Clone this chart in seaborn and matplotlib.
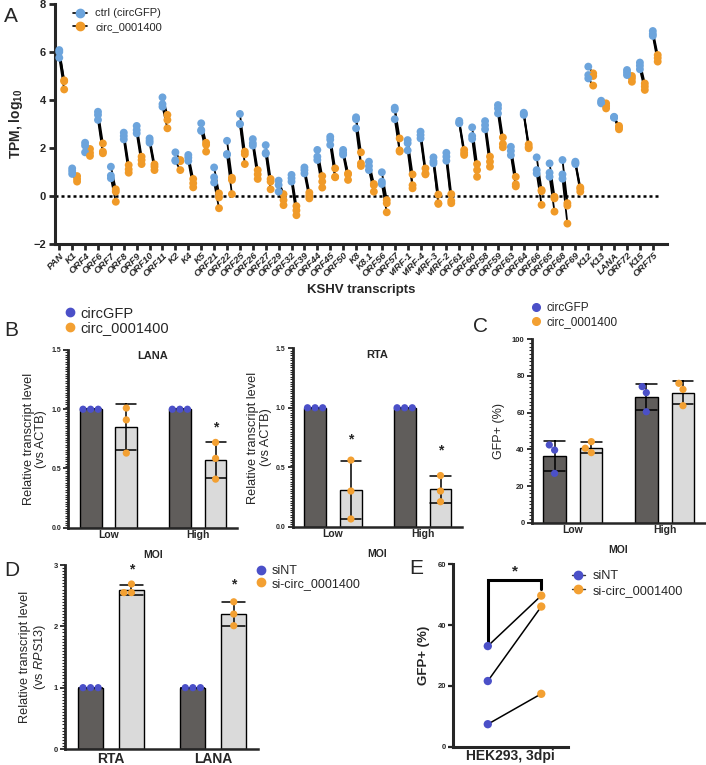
import numpy as np
import pandas as pd
import matplotlib
matplotlib.use("Agg")
import matplotlib.pyplot as plt
import seaborn as sns
from matplotlib.lines import Line2D
from matplotlib.collections import LineCollection
from matplotlib.ticker import MultipleLocator, FormatStrFormatter

# ---------------- data ----------------
transcripts = ["PAN", "K1", "ORF4", "ORF6", "ORF7", "ORF8", "ORF9", "ORF10", "ORF11", "K2",
               "K4", "K5", "ORF21", "ORF22", "ORF25", "ORF26", "ORF27", "ORF29", "ORF32", "ORF39",
               "ORF44", "ORF45", "ORF50", "K8", "K8.1", "ORF56", "ORF57", "vIRF-1", "vIRF-4", "vIRF-3",
               "vIRF-2", "ORF61", "ORF60", "ORF58", "ORF59", "ORF63", "ORF64", "ORF66", "ORF65", "ORF68",
               "ORF69", "K12", "K13", "LANA", "ORF72", "K15", "ORF75"]
ctrl_tpm = [[6.08, 6.0, 5.76], [1.15, 1.04, 0.92], [2.22, 2.1, 1.82], [3.51, 3.38, 3.17],
            [1.22, 0.85, 0.74], [2.64, 2.5, 2.36], [2.92, 2.75, 2.61], [2.4, 2.3, 2.22],
            [4.11, 3.83, 3.72], [1.82, 1.5, 1.46], [1.71, 1.6, 1.46], [3.03, 2.75, 2.71],
            [1.19, 0.78, 0.56], [2.3, 1.75, 1.72], [3.42, 3.0, 3.0], [2.37, 2.2, 2.1],
            [2.12, 1.8, 1.76], [0.64, 0.46, 0.18], [0.88, 0.74, 0.6], [1.19, 1.08, 0.94],
            [1.92, 1.64, 1.5], [2.47, 2.35, 2.13], [1.92, 1.8, 1.72], [3.28, 3.2, 2.82],
            [1.43, 1.25, 1.08], [0.99, 0.6, 0.5], [3.68, 3.6, 3.2], [2.33, 2.2, 1.9],
            [2.68, 2.54, 2.4], [1.61, 1.45, 1.36], [1.8, 1.64, 1.47], [3.13, 3.05, 3.03],
            [2.86, 2.5, 2.38], [3.12, 2.95, 2.78], [3.79, 3.65, 3.44], [2.05, 1.88, 1.7],
            [3.47, 3.42, 3.38], [1.61, 1.08, 0.94], [1.36, 0.97, 0.8], [1.5, 0.9, 0.72],
            [1.43, 1.38, 1.33], [5.39, 5.04, 4.9], [3.97, 3.9, 3.86], [3.3, 3.28, 3.26],
            [5.25, 5.15, 5.04], [5.56, 5.43, 5.28], [6.875, 6.75, 6.67]]
circ_tpm = [[4.82, 4.78, 4.44], [0.83, 0.71, 0.6], [1.96, 1.8, 1.67], [2.19, 1.85, 1.78],
            [0.28, 0.18, -0.24], [1.29, 1.11, 0.97], [1.64, 1.5, 1.33], [1.32, 1.22, 1.08],
            [3.38, 3.17, 2.82], [1.5, 1.45, 1.08], [0.71, 0.53, 0.36], [2.22, 2.13, 1.85],
            [0.11, -0.06, -0.51], [0.76, 0.67, 0.08], [1.85, 1.74, 1.33], [1.08, 0.9, 0.71],
            [0.71, 0.6, 0.28], [0.08, -0.17, -0.38], [-0.42, -0.6, -0.8], [0.14, 0.02, -0.1],
            [0.83, 0.6, 0.35], [1.15, 0.8, 0.78], [0.94, 0.9, 0.67], [1.82, 1.36, 1.25],
            [0.5, 0.45, 0.18], [-0.17, -0.3, -0.68], [2.4, 1.9, 1.85], [0.9, 0.45, 0.32],
            [1.15, 0.94, 0.9], [0.06, -0.3, -0.33], [0.08, -0.2, -0.3], [1.92, 1.8, 1.71],
            [1.33, 1.08, 0.8], [1.64, 1.43, 1.22], [2.44, 2.17, 2.03], [0.8, 0.49, 0.4],
            [2.15, 2.05, 1.99], [0.25, 0.2, -0.37], [-0.03, -0.1, -0.65], [-0.3, -0.4, -1.15],
            [0.36, 0.3, 0.18], [5.11, 5.0, 4.6], [3.86, 3.75, 3.65], [2.92, 2.85, 2.78],
            [5.0, 4.9, 4.76], [4.69, 4.56, 4.42], [5.875, 5.75, 5.6]]

moi_levels = ["Low", "High"]
b_lana_circgfp = [[1.0, 1.0, 1.0], [1.0, 1.0, 1.0]]
b_lana_circ = [[1.01, 0.91, 0.63], [0.72, 0.585, 0.41]]
b_rta_circgfp = [[1.0, 1.0, 1.0], [1.0, 1.0, 1.0]]
b_rta_circ = [[0.56, 0.30, 0.065], [0.43, 0.30, 0.21]]
c_circgfp = [[42.4, 39.6, 26.9], [74.2, 70.9, 60.5]]
c_circ = [[44.2, 40.6, 38.2], [76.0, 72.7, 63.8]]
d_genes = ["RTA", "LANA"]
d_sint = [[1.0, 1.0, 1.0], [1.0, 1.0, 1.0]]
d_sicirc = [[2.69, 2.55, 2.55], [2.40, 2.20, 2.01]]
e_conditions = ["siNT", "si-circ_0001400"]
e_sint = [33.1, 21.6, 7.4]
e_sicirc = [49.7, 46.1, 17.4]

# significance marks (y levels)
b_lana_star = [None, 0.85]
b_rta_star = [0.73, 0.64]
d_star = [2.93, 2.69]
e_star = 57.6

# ---------------- style ----------------
sns.set_theme(style="ticks")
plt.rcParams["font.family"] = ["Liberation Sans", "DejaVu Sans"]
plt.rcParams["mathtext.fontset"] = "custom"
plt.rcParams["mathtext.rm"] = "Liberation Sans"
plt.rcParams["mathtext.it"] = "Liberation Sans:italic"
plt.rcParams["mathtext.bf"] = "Liberation Sans:bold"

BLUE_A = "#6CA4DC"
ORANGE_A = "#F09A28"
VIOLET = "#4B50C8"
ORANGE = "#F3A032"
DARK = "#605D5B"
LIGHT = "#DADADA"

W, H = 706, 765
fig = plt.figure(figsize=(W / 100, H / 100), dpi=100)


def ax_px(left, right, top, bottom):
    return fig.add_axes([left / W, 1 - bottom / H, (right - left) / W, (bottom - top) / H])


def px2fig(x, y):
    return (x / W, 1 - y / H)


# ---------------- Panel A ----------------
axA = ax_px(54.5, 667, 4, 244)
off = 0.38
rows = []
segs = []
for i, name in enumerate(transcripts):
    for k in range(3):
        rows.append((i, "ctrl (circGFP)", ctrl_tpm[i][k]))
        rows.append((i + off, "circ_0001400", circ_tpm[i][k]))
        segs.append([(i, ctrl_tpm[i][k]), (i + off, circ_tpm[i][k])])
dfA = pd.DataFrame(rows, columns=["pos", "grp", "val"])
axA.add_collection(LineCollection(segs, colors="black", linewidths=1.3, zorder=2))
sns.scatterplot(data=dfA, x="pos", y="val", hue="grp", palette=[BLUE_A, ORANGE_A],
                s=32, edgecolor="none", legend=False, ax=axA, zorder=3)
axA.hlines(0, -0.37, 46.6, colors="black", linestyles=(0, (1.2, 1.2)), linewidth=1.8, zorder=1)
axA.set_xlim(-0.37, 47.1)
axA.set_ylim(-2, 8)
axA.set_yticks([-2, 0, 2, 4, 6, 8])
axA.set_xticks(range(len(transcripts)))
axA.set_xticklabels(transcripts, rotation=45, ha="right", va="top", rotation_mode="anchor",
                    fontstyle="italic", fontweight="bold", fontsize=6.8)
for t in axA.get_yticklabels():
    t.set_fontweight("bold")
    t.set_fontsize(8)
axA.tick_params(axis="both", width=2, length=4, pad=2)
axA.tick_params(axis="x", pad=1)
for s in ["top", "right"]:
    axA.spines[s].set_visible(False)
for s in ["left", "bottom"]:
    axA.spines[s].set_linewidth(2.2)
axA.set_xlabel("KSHV transcripts", fontweight="bold", fontsize=9.5, labelpad=4)
axA.set_ylabel(r"TPM, log$_{\mathbf{10}}$", fontweight="bold", fontsize=10, labelpad=6)

hA = [Line2D([0], [0], color="black", lw=1.2, marker="o", ms=6, mfc=BLUE_A, mec=BLUE_A),
      Line2D([0], [0], color="black", lw=1.2, marker="o", ms=6, mfc=ORANGE_A, mec=ORANGE_A)]
fig.legend(hA, ["ctrl (circGFP)", "circ_0001400"], loc="upper left",
           bbox_to_anchor=px2fig(73, 8.5), frameon=False, borderpad=0, borderaxespad=0,
           handlelength=1.3, handletextpad=0.7, labelspacing=0.3, fontsize=8)


# ---------------- bar panel helper ----------------
def bar_panel(ax, cats, ctrl, treat, names, ylim, major, minor, star_levels=None,
              tick_fs=5, xfs=7.5):
    rows = []
    for ci, c in enumerate(cats):
        for v in ctrl[ci]:
            rows.append((c, names[0], v))
        for v in treat[ci]:
            rows.append((c, names[1], v))
    df = pd.DataFrame(rows, columns=["cat", "grp", "val"])
    sns.barplot(data=df, x="cat", y="val", hue="grp", order=cats, hue_order=names,
                palette=[DARK, LIGHT], saturation=1, errorbar="sd", capsize=0.45,
                err_kws={"color": "black", "linewidth": 1.1}, edgecolor="black",
                linewidth=1.0, width=0.8, gap=0.39, ax=ax, legend=False)
    sns.swarmplot(data=df, x="cat", y="val", hue="grp", order=cats, hue_order=names,
                  palette=[VIOLET, ORANGE], dodge=True, size=5.2, ax=ax, legend=False,
                  zorder=5)
    ax.set_ylim(*ylim)
    ax.set_xlim(-0.45, 1.44)
    ax.yaxis.set_major_locator(MultipleLocator(major))
    ax.yaxis.set_minor_locator(MultipleLocator(minor))
    ax.tick_params(axis="y", which="major", width=1.3, length=3.5, pad=1.5, labelsize=tick_fs)
    ax.tick_params(axis="y", which="minor", width=0.8, length=2)
    ax.tick_params(axis="x", length=0, pad=2, labelsize=xfs)
    for t in ax.get_yticklabels() + ax.get_xticklabels():
        t.set_fontweight("bold")
    for s in ["top", "right"]:
        ax.spines[s].set_visible(False)
    ax.spines["left"].set_linewidth(2.0)
    ax.spines["bottom"].set_linewidth(1.8)
    ax.set_xlabel("")
    if star_levels:
        for ci, yv in enumerate(star_levels):
            if yv is not None:
                ax.text(ci + 0.2, yv, "*", ha="center", va="center", fontsize=10,
                        fontweight="bold")


# ---------------- Panel B ----------------
axB1 = ax_px(68.3, 237, 350, 527.7)
bar_panel(axB1, moi_levels, b_lana_circgfp, b_lana_circ, ["circGFP", "circ_0001400"],
          (0, 1.5), 0.5, 0.02, b_lana_star)
axB1.yaxis.set_major_formatter(FormatStrFormatter("%.1f"))
axB1.text(0.5, 0.965, "LANA", transform=axB1.transAxes, ha="center", va="center",
          fontsize=8, fontweight="bold")
axB1.set_xlabel("MOI", fontweight="bold", fontsize=7.5, labelpad=7)
axB1.set_ylabel("Relative transcript level\n(vs ACTB)", fontsize=9.2, labelpad=3,
                linespacing=1.1)

axB2 = ax_px(292.7, 462, 348.3, 526.7)
bar_panel(axB2, moi_levels, b_rta_circgfp, b_rta_circ, ["circGFP", "circ_0001400"],
          (0, 1.5), 0.5, 0.02, b_rta_star)
axB2.yaxis.set_major_formatter(FormatStrFormatter("%.1f"))
axB2.text(0.5, 0.965, "RTA", transform=axB2.transAxes, ha="center", va="center",
          fontsize=8, fontweight="bold")
axB2.set_xlabel("MOI", fontweight="bold", fontsize=7.5, labelpad=7)
axB2.set_ylabel("Relative transcript level\n(vs ACTB)", fontsize=9.2, labelpad=3,
                linespacing=1.1)

hB = [Line2D([0], [0], ls="none", marker="o", ms=6, mfc=VIOLET, mec=VIOLET),
      Line2D([0], [0], ls="none", marker="o", ms=6, mfc=ORANGE, mec=ORANGE)]
fig.legend(hB, ["circGFP", "circ_0001400"], loc="upper left",
           bbox_to_anchor=px2fig(64, 306.5), frameon=False, borderpad=0, borderaxespad=0,
           handlelength=0.8, handletextpad=0.3, labelspacing=0.05, fontsize=10.5)

# ---------------- Panel C ----------------
axC = ax_px(531.7, 705, 339.3, 522.7)
bar_panel(axC, moi_levels, c_circgfp, c_circ, ["circGFP", "circ_0001400"],
          (0, 100), 20, 2, None, tick_fs=5.5)
axC.set_xlabel("MOI", fontweight="bold", fontsize=7.5, labelpad=7)
axC.set_ylabel("GFP+ (%)", fontsize=9, labelpad=5)
hC = [Line2D([0], [0], ls="none", marker="o", ms=5.5, mfc=VIOLET, mec=VIOLET),
      Line2D([0], [0], ls="none", marker="o", ms=5.5, mfc=ORANGE, mec=ORANGE)]
fig.legend(hC, ["circGFP", "circ_0001400"], loc="upper left",
           bbox_to_anchor=px2fig(531.3, 302), frameon=False, borderpad=0, borderaxespad=0,
           handlelength=0.8, handletextpad=0.5, labelspacing=0.2, fontsize=8.5)

# ---------------- Panel D ----------------
axD = ax_px(65, 258.3, 565, 749)
bar_panel(axD, d_genes, d_sint, d_sicirc, ["siNT", "si-circ_0001400"],
          (0, 3), 1, 0.05, d_star, tick_fs=5.5, xfs=10)
axD.set_ylabel("Relative transcript level\n" + r"(vs $\mathit{RPS13}$)", fontsize=9.2,
               labelpad=4, linespacing=1.1)
hD = [Line2D([0], [0], ls="none", marker="o", ms=6, mfc=VIOLET, mec=VIOLET),
      Line2D([0], [0], ls="none", marker="o", ms=6, mfc=ORANGE, mec=ORANGE)]
fig.legend(hD, ["siNT", "si-circ_0001400"], loc="upper left",
           bbox_to_anchor=px2fig(256, 565.2), frameon=False, borderpad=0, borderaxespad=0,
           handlelength=0.8, handletextpad=0.45, labelspacing=0.05, fontsize=9)

# ---------------- Panel E ----------------
axE = ax_px(453.3, 568, 564.3, 746.7)
dfE = pd.DataFrame({"cond": [e_conditions[0]] * 3 + [e_conditions[1]] * 3,
                    "val": e_sint + e_sicirc})
for a, b in zip(e_sint, e_sicirc):
    axE.plot([0, 1], [a, b], color="black", lw=1.1, zorder=2)
sns.stripplot(data=dfE, x="cond", y="val", hue="cond", order=e_conditions,
              palette=[VIOLET, ORANGE], jitter=False, size=6, ax=axE, legend=False, zorder=4)
axE.plot([0, 0, 1, 1], [max(e_sint) + 0.8, 54.8, 54.8, 51.8], color="black", lw=2.2,
         solid_joinstyle="miter", zorder=3)
axE.text(0.5, e_star, "*", ha="center", va="center", fontsize=11, fontweight="bold")
axE.set_xlim(-0.645, 1.5)
axE.set_ylim(0, 60)
axE.set_yticks([0, 20, 40, 60])
axE.set_xticks([])
axE.tick_params(axis="y", width=1.6, length=3.5, pad=1.5, labelsize=5.5)
for t in axE.get_yticklabels():
    t.set_fontweight("bold")
for s in ["top", "right"]:
    axE.spines[s].set_visible(False)
axE.spines["left"].set_linewidth(2.2)
axE.spines["bottom"].set_linewidth(2.2)
axE.set_xlabel("HEK293, 3dpi", fontweight="bold", fontsize=10, labelpad=2)
axE.set_ylabel("GFP+ (%)", fontweight="bold", fontsize=9.5, labelpad=6)
hE = [Line2D([0], [0], color="#333333", lw=1.0, marker="o", ms=6, mfc=VIOLET, mec=VIOLET),
      Line2D([0], [0], color="#333333", lw=1.0, marker="o", ms=6, mfc=ORANGE, mec=ORANGE)]
fig.legend(hE, e_conditions, loc="upper left",
           bbox_to_anchor=px2fig(571.7, 570.3), frameon=False, borderpad=0, borderaxespad=0,
           handlelength=1.05, handletextpad=0.55, labelspacing=0.2, fontsize=9.2)

# ---------------- panel letters ----------------
for letter, (x, y) in {"A": (11, 16), "B": (11, 331), "C": (480, 327),
                       "D": (12, 570), "E": (416, 569)}.items():
    fx, fy = px2fig(x, y)
    fig.text(fx, fy, letter, fontsize=15, ha="center", va="center")

fig.savefig("out.png", dpi=100)
